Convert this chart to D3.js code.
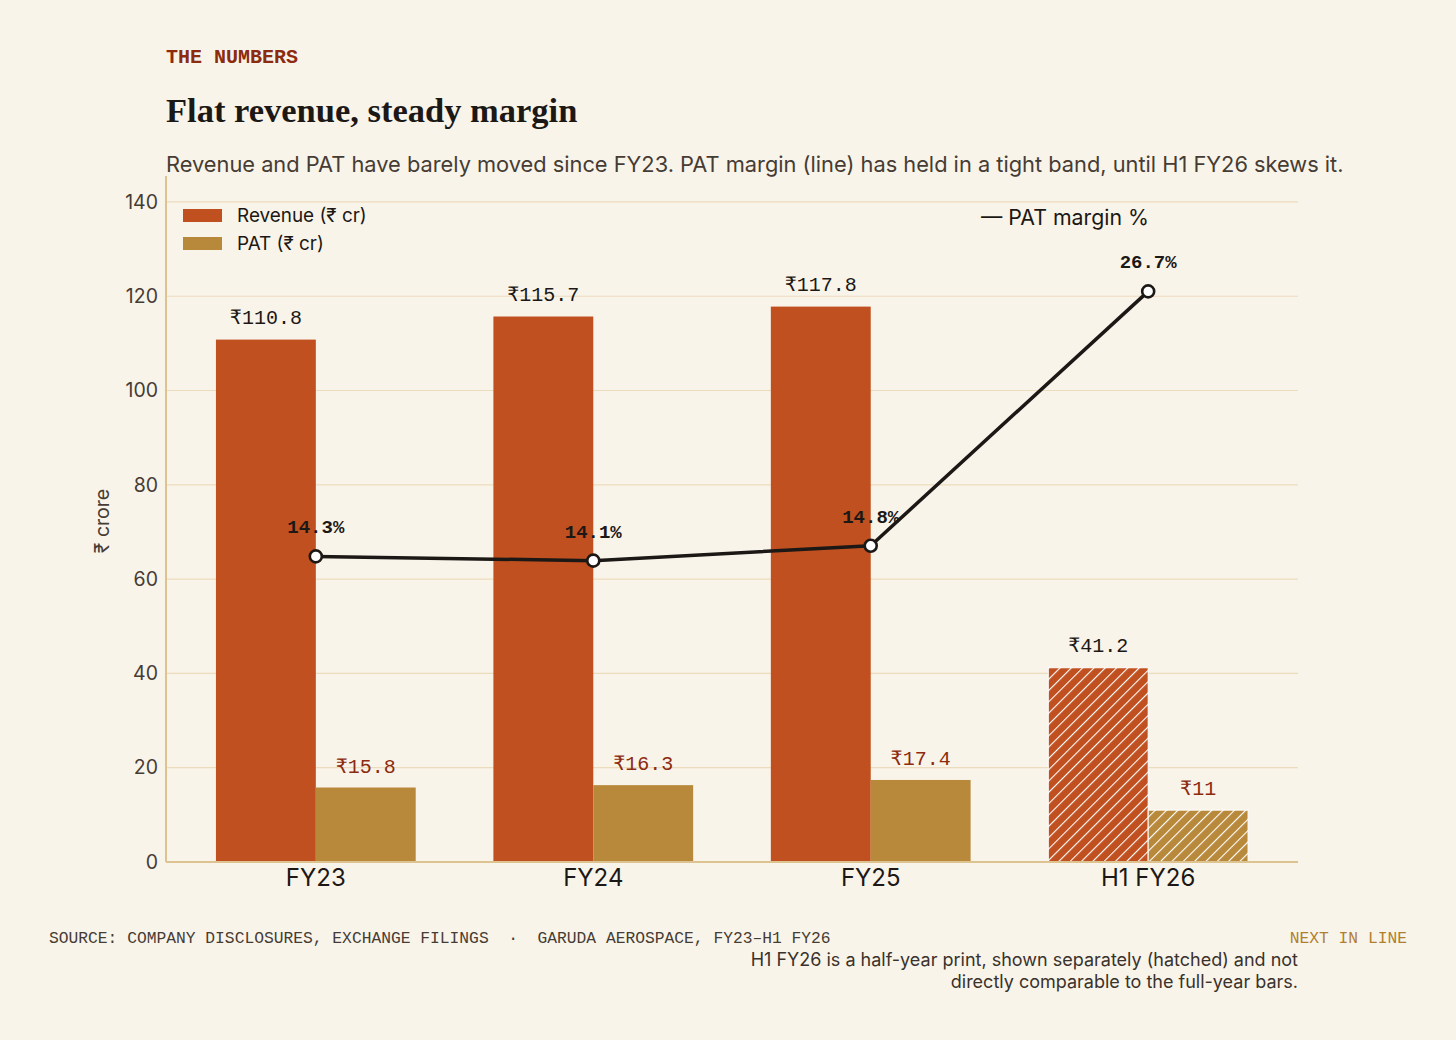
<!DOCTYPE html>
<html>
<head>
<meta charset="utf-8">
<script src="https://cdn.jsdelivr.net/npm/d3@7"></script>
<style>
  html, body { margin: 0; padding: 0; background: #F9F4EA; }
  svg { display: block; }
</style>
</head>
<body>
<svg id="chart" width="1456" height="1040"></svg>
<script>
// Chart data
const categories = ["FY23", "FY24", "FY25", "H1 FY26"];
const revenue = [110.8, 115.7, 117.8, 41.2];
const pat = [15.8, 16.3, 17.4, 11];
const patMargin = [14.3, 14.1, 14.8, 26.7];
const isHalfYear = [false, false, false, true];
const yTicks = [0, 20, 40, 60, 80, 100, 120, 140];

// Colours and fonts
const BG = "#F9F4EA";
const REV_COLOR = "#C0501F";
const PAT_COLOR = "#B8893B";
const INK = "#1c1815";
const MUTED = "#463c34";
const RUST = "#8C2B0E";
const GRID = "#ECDBBC";
const AXIS = "#DCC390";
const SANS = "Inter, 'Noto Sans', sans-serif";
const MONO = "'Liberation Mono', 'DejaVu Sans Mono', monospace";
const SERIF = "'Liberation Serif', 'DejaVu Serif', serif";

const svg = d3.select("#chart");
svg.append("rect").attr("width", 1456).attr("height", 1040).attr("fill", BG);

const plot = { left: 166, right: 1298, top: 176, bottom: 862 };

// Scales
const x0 = d3.scaleBand()
    .domain(categories)
    .range([plot.left, plot.right])
    .paddingInner(0.28)
    .paddingOuter(0.18);
const x1 = d3.scaleBand()
    .domain(["rev", "pat"])
    .range([0, x0.bandwidth()]);
const y = d3.scaleLinear().domain([0, 145.5]).range([plot.bottom, plot.top]);
const yMargin = d3.scaleLinear().domain([0, 32.1]).range([plot.bottom, plot.top]);

// Hatch patterns for the half-year bars
const HATCH = 8;
const defs = svg.append("defs");
[["hatch-rev", REV_COLOR], ["hatch-pat", PAT_COLOR]].forEach(([id, color]) => {
    const p = defs.append("pattern")
        .attr("id", id)
        .attr("patternUnits", "userSpaceOnUse")
        .attr("width", HATCH)
        .attr("height", HATCH)
        .attr("patternTransform", "rotate(45)");
    p.append("rect").attr("width", HATCH).attr("height", HATCH).attr("fill", color);
    p.append("line")
        .attr("x1", 0).attr("y1", 0).attr("x2", 0).attr("y2", HATCH)
        .attr("stroke", "#fff").attr("stroke-width", 2.2);
});

// Header texts
svg.append("text")
    .attr("x", 166).attr("y", 63)
    .attr("font-family", MONO).attr("font-size", 20).attr("font-weight", 600)
    .attr("fill", RUST)
    .text("THE NUMBERS");
svg.append("text")
    .attr("x", 166).attr("y", 122)
    .attr("font-family", SERIF).attr("font-size", 34.5).attr("font-weight", 700)
    .attr("fill", INK)
    .text("Flat revenue, steady margin");
svg.append("text")
    .attr("x", 166).attr("y", 172)
    .attr("font-family", SANS).attr("font-size", 21.8)
    .attr("fill", MUTED)
    .text("Revenue and PAT have barely moved since FY23. PAT margin (line) has held in a tight band, until H1 FY26 skews it.");

// Gridlines
svg.append("g")
    .selectAll("line")
    .data(yTicks.filter(d => d > 0))
    .enter()
    .append("line")
    .attr("x1", plot.left).attr("x2", plot.right)
    .attr("y1", d => y(d)).attr("y2", d => y(d))
    .attr("stroke", GRID).attr("stroke-width", 1.2);

// Y axis
const yAxis = svg.append("g")
    .attr("transform", `translate(${plot.left},0)`)
    .call(d3.axisLeft(y).tickValues(yTicks).tickSize(0).tickPadding(8));
yAxis.select(".domain").remove();
yAxis.selectAll("text")
    .attr("font-family", SANS).attr("font-size", 19.5).attr("fill", MUTED);

svg.append("line")
    .attr("x1", plot.left).attr("x2", plot.left)
    .attr("y1", plot.top).attr("y2", plot.bottom)
    .attr("stroke", AXIS).attr("stroke-width", 2);

svg.append("text")
    .attr("transform", "translate(109,521) rotate(-90)")
    .attr("text-anchor", "middle")
    .attr("font-family", SANS).attr("font-size", 19.5).attr("fill", MUTED)
    .text("₹ crore");

// Bars
const rows = categories.map((c, i) => ({
    cat: c, rev: revenue[i], pat: pat[i], margin: patMargin[i], half: isHalfYear[i]
}));

const groups = svg.append("g")
    .selectAll("g")
    .data(rows)
    .enter()
    .append("g")
    .attr("transform", d => `translate(${x0(d.cat)},0)`);

groups.append("rect")
    .attr("x", x1("rev"))
    .attr("y", d => y(d.rev))
    .attr("width", x1.bandwidth())
    .attr("height", d => y(0) - y(d.rev))
    .attr("fill", d => d.half ? "url(#hatch-rev)" : REV_COLOR)
    .attr("stroke", d => d.half ? "#fff" : "none")
    .attr("stroke-width", 1);

groups.append("rect")
    .attr("x", x1("pat"))
    .attr("y", d => y(d.pat))
    .attr("width", x1.bandwidth())
    .attr("height", d => y(0) - y(d.pat))
    .attr("fill", d => d.half ? "url(#hatch-pat)" : PAT_COLOR)
    .attr("stroke", d => d.half ? "#fff" : "none")
    .attr("stroke-width", 1);

// Bar value labels
groups.append("text")
    .attr("x", x1("rev") + x1.bandwidth() / 2)
    .attr("y", d => y(d.rev) - 16)
    .attr("text-anchor", "middle")
    .attr("font-family", MONO).attr("font-size", 20).attr("fill", INK)
    .text(d => "₹" + d.rev);

groups.append("text")
    .attr("x", x1("pat") + x1.bandwidth() / 2)
    .attr("y", d => y(d.pat) - 15)
    .attr("text-anchor", "middle")
    .attr("font-family", MONO).attr("font-size", 20).attr("fill", RUST)
    .text(d => "₹" + d.pat);

// X axis baseline and labels
svg.append("line")
    .attr("x1", plot.left).attr("x2", plot.right)
    .attr("y1", plot.bottom).attr("y2", plot.bottom)
    .attr("stroke", AXIS).attr("stroke-width", 2);

const xAxis = svg.append("g")
    .attr("transform", `translate(0,${plot.bottom})`)
    .call(d3.axisBottom(x0).tickSize(0).tickPadding(7));
xAxis.select(".domain").remove();
xAxis.selectAll("text")
    .attr("font-family", SANS).attr("font-size", 24).attr("fill", INK);

// PAT margin line
const cx = d => x0(d.cat) + x0.bandwidth() / 2;
const line = d3.line()
    .x(cx)
    .y(d => yMargin(d.margin));

svg.append("path")
    .datum(rows)
    .attr("d", line)
    .attr("fill", "none")
    .attr("stroke", INK)
    .attr("stroke-width", 3.5)
    .attr("stroke-linejoin", "round");

svg.append("g")
    .selectAll("circle")
    .data(rows)
    .enter()
    .append("circle")
    .attr("cx", cx)
    .attr("cy", d => yMargin(d.margin))
    .attr("r", 6)
    .attr("fill", "#fff")
    .attr("stroke", INK)
    .attr("stroke-width", 2.6);

svg.append("g")
    .selectAll("text")
    .data(rows)
    .enter()
    .append("text")
    .attr("x", cx)
    .attr("y", d => yMargin(d.margin) - 23)
    .attr("text-anchor", "middle")
    .attr("font-family", MONO).attr("font-size", 19).attr("font-weight", 700)
    .attr("fill", INK)
    .text(d => d.margin + "%");

// Legend
const legend = svg.append("g");
const legendItems = [["Revenue (₹ cr)", REV_COLOR], ["PAT (₹ cr)", PAT_COLOR]];
legendItems.forEach(([label, color], i) => {
    legend.append("rect")
        .attr("x", 183).attr("y", 209 + i * 28)
        .attr("width", 39).attr("height", 13)
        .attr("fill", color);
    legend.append("text")
        .attr("x", 237).attr("y", 222 + i * 28)
        .attr("font-family", SANS).attr("font-size", 18.9).attr("fill", INK)
        .text(label);
});
svg.append("text")
    .attr("x", 981).attr("y", 225)
    .attr("font-family", SANS).attr("font-size", 21.3).attr("fill", INK)
    .text("— PAT margin %");

// Footer
svg.append("text")
    .attr("x", 49).attr("y", 943)
    .attr("font-family", MONO).attr("font-size", 16.3).attr("fill", MUTED)
    .attr("xml:space", "preserve")
    .text("SOURCE: COMPANY DISCLOSURES, EXCHANGE FILINGS  ·  GARUDA AEROSPACE, FY23–H1 FY26");
svg.append("text")
    .attr("x", 1407).attr("y", 943)
    .attr("text-anchor", "end")
    .attr("font-family", MONO).attr("font-size", 16.3).attr("fill", "#B07F2E")
    .text("NEXT IN LINE");

const note = svg.append("text")
    .attr("text-anchor", "end")
    .attr("font-family", SANS).attr("font-size", 18).attr("fill", "#3a322c");
note.append("tspan").attr("x", 1298).attr("y", 966)
    .text("H1 FY26 is a half-year print, shown separately (hatched) and not");
note.append("tspan").attr("x", 1298).attr("y", 988)
    .text("directly comparable to the full-year bars.");
</script>
</body>
</html>
